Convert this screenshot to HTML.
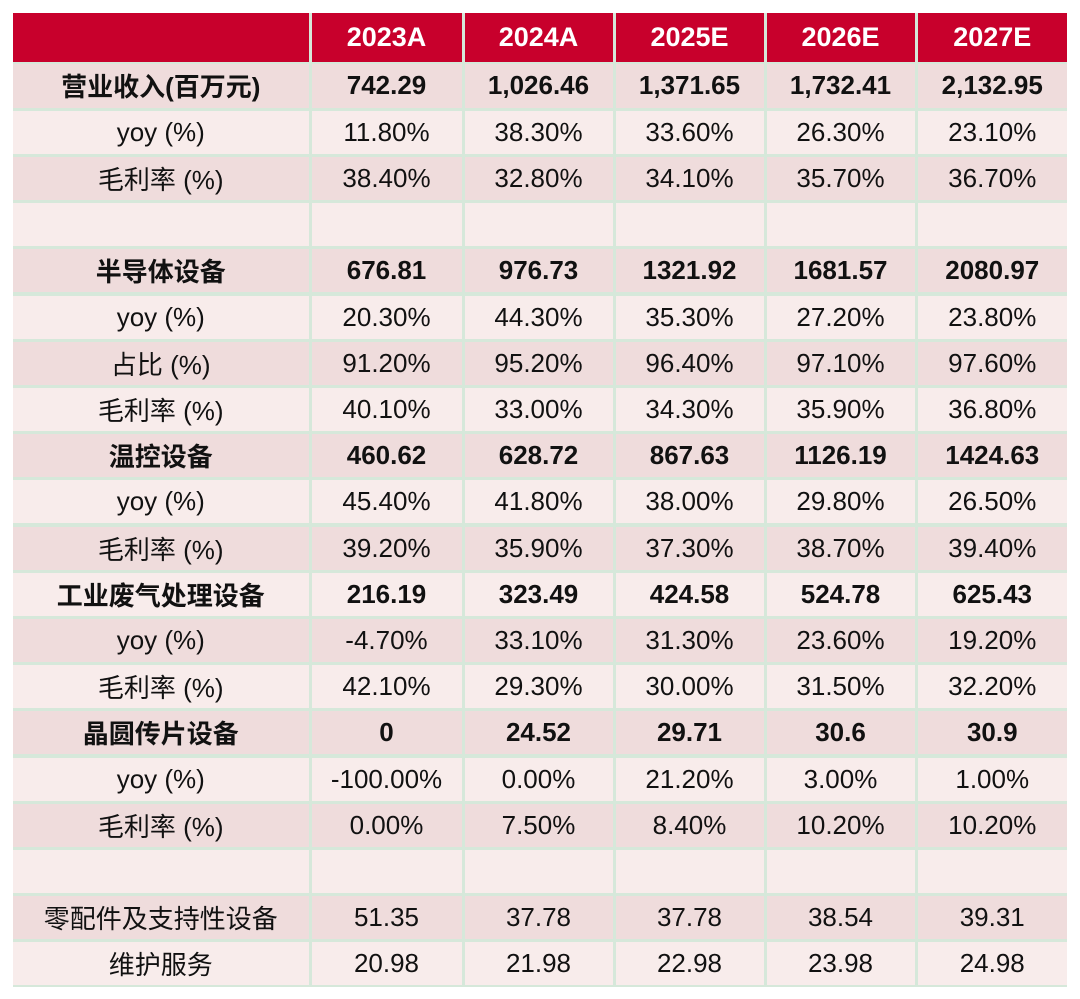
<!DOCTYPE html>
<html><head><meta charset="utf-8">
<style>
body{margin:0;width:1080px;height:999px;background:#fff;position:relative;overflow:hidden;font-family:"Liberation Sans","Noto Sans CJK SC",sans-serif;}
#grid{position:absolute;left:13px;top:13px;width:1054px;height:974px;background:#d6e8da;}
.c{position:absolute;display:flex;align-items:center;justify-content:center;font-size:26px;color:#111;white-space:nowrap;box-sizing:border-box;}
.h{background:#c8002c;color:#fff;font-weight:bold;font-size:27px;}
.d{background:#efdcdc;}
.l{background:#f8eceb;}
.b{font-weight:bold;}
</style></head><body>
<div id="grid"></div>
<script>
const headers=["","2023A","2024A","2025E","2026E","2027E"];
const labels=["营业收入(百万元)","yoy (%)","毛利率 (%)","","半导体设备","yoy (%)","占比 (%)","毛利率 (%)","温控设备","yoy (%)","毛利率 (%)","工业废气处理设备","yoy (%)","毛利率 (%)","晶圆传片设备","yoy (%)","毛利率 (%)","","零配件及支持性设备","维护服务"];
const boldRows=[0,4,8,11,14];
const values=[
["742.29","1,026.46","1,371.65","1,732.41","2,132.95"],
["11.80%","38.30%","33.60%","26.30%","23.10%"],
["38.40%","32.80%","34.10%","35.70%","36.70%"],
["","","","",""],
["676.81","976.73","1321.92","1681.57","2080.97"],
["20.30%","44.30%","35.30%","27.20%","23.80%"],
["91.20%","95.20%","96.40%","97.10%","97.60%"],
["40.10%","33.00%","34.30%","35.90%","36.80%"],
["460.62","628.72","867.63","1126.19","1424.63"],
["45.40%","41.80%","38.00%","29.80%","26.50%"],
["39.20%","35.90%","37.30%","38.70%","39.40%"],
["216.19","323.49","424.58","524.78","625.43"],
["-4.70%","33.10%","31.30%","23.60%","19.20%"],
["42.10%","29.30%","30.00%","31.50%","32.20%"],
["0","24.52","29.71","30.6","30.9"],
["-100.00%","0.00%","21.20%","3.00%","1.00%"],
["0.00%","7.50%","8.40%","10.20%","10.20%"],
["","","","",""],
["51.35","37.78","37.78","38.54","39.31"],
["20.98","21.98","22.98","23.98","24.98"]
];
const grid=document.getElementById('grid');
const colX=[0,297,450,601,752,903,1054];
const headH=50, rowH=46.2, gap=3;
function cell(x0,x1,y0,y1,cls,txt){
  const d=document.createElement('div');
  d.className='c '+cls;
  d.style.left=x0+'px';d.style.top=y0+'px';
  d.style.width=(x1-x0)+'px';d.style.height=(y1-y0)+'px';
  d.textContent=txt;
  grid.appendChild(d);return d;
}
for(let c=0;c<6;c++){
  const x0=colX[c]+(c?gap/2:0), x1=colX[c+1]-(c<5?gap/2:0);
  const el=cell(x0,x1,0,headH-1,'h',headers[c]);
  
  
}
for(let r=0;r<labels.length;r++){
  const y0=headH+r*rowH+(r?gap/2:1), y1=headH+(r+1)*rowH-gap/2;
  const bg=(r%2===0)?'d':'l';
  const bold=boldRows.includes(r)?' b':'';
  for(let c=0;c<6;c++){
    const x0=colX[c]+(c?gap/2:0), x1=colX[c+1]-(c<5?gap/2:0);
    const txt=c===0?labels[r]:values[r][c-1];
    const el=cell(x0,x1,y0,y1,bg+bold,txt);
    
    
  }
}
</script>
</body></html>
